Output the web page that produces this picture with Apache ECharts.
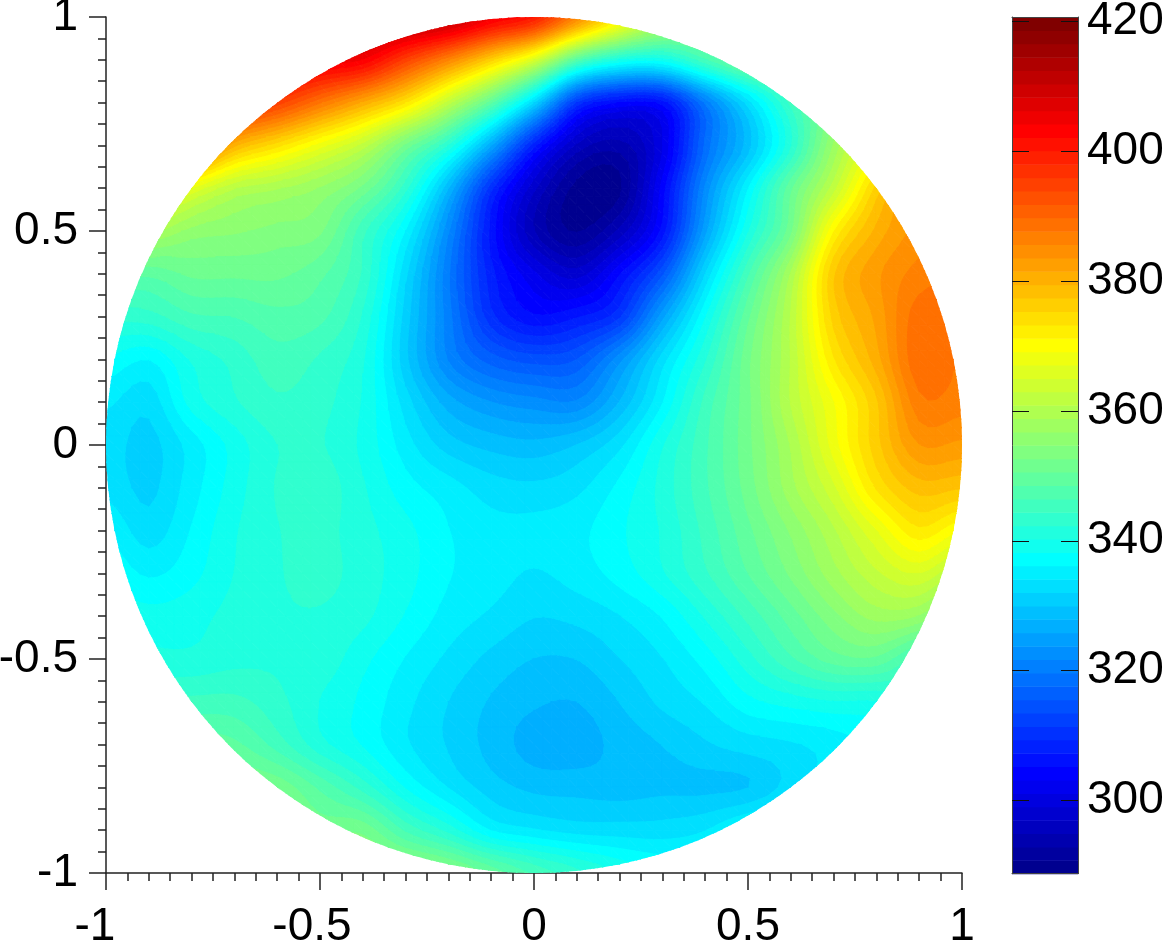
<!DOCTYPE html>
<html><head><meta charset="utf-8">
<style>html,body{margin:0;padding:0;background:#fff}#c{width:1165px;height:944px}</style>
<script src="https://cdn.jsdelivr.net/npm/echarts@6/dist/echarts.min.js"></script>
</head><body><div id="c"></div>
<script>
const gridX=[-1,-0.9,-0.8,-0.7,-0.6,-0.5,-0.4,-0.3,-0.2,-0.1,0,0.1,0.2,0.3,0.4,0.5,0.6,0.7,0.8,0.9,1];
const gridY=[1,0.9,0.8,0.7,0.6,0.5,0.4,0.3,0.2,0.1,0,-0.1,-0.2,-0.3,-0.4,-0.5,-0.6,-0.7,-0.8,-0.9,-1];
const values=[
[420,420,420,418,416,414,414,414,412,405,400,386,372,360,354,352,352,354,360,370,380],
[415,415,412,410,408,406,404,395,386,376,365,348,340,339,346,352,355,358,362,370,380],
[410,408,405,400,395,388,381,373.3,361.8,349,332,311,305,306,320,333,345,354,362,372,382],
[400,398,392,380,374,368,362,352,342,326,308,296.5,294,301,318,329,342,357,368,378,386],
[385,375,367,361,359,356.5,352,343,328,310,297.5,290,290.3,304,322,336,350,362,376,384,388],
[365,360,356,355,354,353,345,336,322,306.5,295,290.6,295.5,306,325,340,352,371,380,384.5,387],
[350,349,351,351,351,349,344,332.5,320,308,301.5,298,305,315,332,346,359,377,383,386.5,388],
[343,343.5,346,346.5,347.8,347,342,331,320.5,310,305.5,307,311,325,338,350,361,376,382,388.8,388],
[338,336.2,340.5,343,345.6,344,340.5,330.5,321.5,316.5,314.5,315.5,323,333,342,352,361,373,380.5,389.2,387.5],
[334.5,332.8,339,342,344,343,340,333,326.8,323.8,322.5,322,328,336,345,352,361,369,377,387,386.5],
[333,331.3,335,339,342.3,342.5,339.7,335,331,329.2,328.5,330,333.5,340,346,352,359,368,376.5,383.5,383],
[333.5,331.5,335.2,339.2,342.5,343.5,340.5,337,335,333,332.5,333.5,336.7,341,346,351.5,358,364.5,373.5,378.3,377.5],
[336,333,336.3,340,342.2,343,341,338.8,336.2,334.8,334.7,335.5,337.8,340.5,345,350,355,360.5,367,372.7,369],
[338,335.8,337.5,340.3,342.1,343,341.3,339,336.3,335,333.9,335,337,340,344,348.5,353,358,362.5,365,360],
[340,339,339.5,341,342,342.1,340.8,338,335.3,333.7,332.1,332.6,334,336.3,340.5,345,349.5,354,357.5,356.5,350],
[342,341,340.8,341.7,342,341.6,338.8,336,333.6,331.4,329.9,330,332,334,337,341.5,346,349.5,350,345,342],
[346,345,345,345,343,340.2,337.7,334.7,332,329.7,328.2,327.9,330,332.5,334.3,337.5,339,340,340,342,344],
[352,351,350,349,345.5,341,338,334.4,331.8,329.2,327,326.8,328.6,330,331.7,333,333.8,335,337,340,342],
[356,355,354,353,352,348,343.5,338,334,331,329.4,329.2,329,329.5,329.5,329.9,333,336,338,340,342],
[358,357,356,355,354,352,352,346,341.5,336,334.3,333.2,333,333,334,337,339,340,341,342,344],
[358,358,358,358,357,356,356,356,354,350,346,343,340,338,338,340,341,342,343,344,345]
];
const barMin=288.7, barMax=420.7, bandCount=64;
const barTicks=[300,320,340,360,380,400,420];

const bandStep=(barMax-barMin)/bandCount;
function jet(k){ // k is 1..64
  const f=a=>Math.round(255*Math.max(0,Math.min(1,a)));
  return 'rgb('+f(Math.min((k-24)/16,(72-k)/16))+','+f(Math.min((k-8)/16,(56-k)/16))+','+f(Math.min((k+8)/16,(40-k)/16))+')';
}
function clipPoly(poly,level,above){
  const out=[];
  for(let i=0;i<poly.length;i++){
    const a=poly[i],b=poly[(i+1)%poly.length];
    const ia=above?a[2]>=level:a[2]<=level, ib=above?b[2]>=level:b[2]<=level;
    if(ia)out.push(a);
    if(ia!==ib){const t=(level-a[2])/(b[2]-a[2]);out.push([a[0]+t*(b[0]-a[0]),a[1]+t*(b[1]-a[1]),level]);}
  }
  return out;
}
// contour smoothing used only while drawing a cell, the way a smoothed line is drawn
const idx=(v,n)=>Math.max(0,Math.min(n-1,v));
function cr(p0,p1,p2,p3,t){
  return 0.5*(2*p1+(p2-p0)*t+(2*p0-5*p1+4*p2-p3)*t*t+(3*p1-p0-3*p2+p3)*t*t*t);
}
function surf(r,c,u,v){
  const col=[];
  for(let i=-1;i<3;i++){
    const row=values[idx(r+i,values.length)];
    const n=row.length;
    col.push(cr(row[idx(c-1,n)],row[idx(c,n)],row[idx(c+1,n)],row[idx(c+2,n)],u));
  }
  return cr(col[0],col[1],col[2],col[3],v);
}
const SUB=5;
const cells=[];
for(let r=0;r<gridY.length-1;r++)for(let c=0;c<gridX.length-1;c++)cells.push([c,r]);
function renderCell(params,api){
  const c=api.value(0),r=api.value(1);
  const x0=gridX[c],x1=gridX[c+1],y0=gridY[r],y1=gridY[r+1];
  const far=Math.max(...[[x0,y0],[x1,y0],[x1,y1],[x0,y1]].map(p=>Math.hypot(p[0],p[1])));
  const nx=x0*x1<=0?0:Math.min(Math.abs(x0),Math.abs(x1)), ny=y0*y1<=0?0:Math.min(Math.abs(y0),Math.abs(y1));
  if(Math.hypot(nx,ny)>=1)return null;
  const pts=[];
  for(let j=0;j<=SUB;j++){
    const line=[];
    for(let i=0;i<=SUB;i++){
      const u=i/SUB,v=j/SUB;
      const p=api.coord([x0+(x1-x0)*u,y0+(y1-y0)*v]);
      line.push([p[0],p[1],surf(r,c,u,v)]);
    }
    pts.push(line);
  }
  const children=[];
  const addTri=tri=>{
    const vs=tri.map(t=>t[2]);
    const kLo=Math.max(1,Math.min(bandCount,Math.floor((Math.min(...vs)-barMin)/bandStep)+1));
    const kHi=Math.max(1,Math.min(bandCount,Math.floor((Math.max(...vs)-barMin)/bandStep)+1));
    for(let k=kLo;k<=kHi;k++){
      let poly=tri;
      if(k>1)poly=clipPoly(poly,barMin+(k-1)*bandStep,true);
      if(poly.length>=3&&k<bandCount)poly=clipPoly(poly,barMin+k*bandStep,false);
      if(poly.length>=3){
        const col=jet(k);
        children.push({type:'polygon',shape:{points:poly.map(q=>[q[0],q[1]])},style:{fill:col,stroke:col,lineWidth:1,lineJoin:'round'}});
      }
    }
  };
  for(let j=0;j<SUB;j++)for(let i=0;i<SUB;i++){
    const a=pts[j][i],b=pts[j][i+1],d=pts[j+1][i+1],e=pts[j+1][i];
    addTri([a,b,d]);addTri([a,d,e]);
  }
  const g={type:'group',children:children};
  if(far>=0.98){
    const o=api.coord([0,0]),e1=api.coord([1,0]);
    g.clipPath={type:'circle',shape:{cx:o[0],cy:o[1],r:e1[0]-o[0]}};
  }
  return g;
}
const bands=[];
for(let k=1;k<=bandCount;k++)bands.push(k);
function renderBand(params,api){
  const k=api.value(0);
  const p0=api.coord([0,barMin+(k-1)*bandStep]),p1=api.coord([1,barMin+k*bandStep]);
  return {type:'rect',shape:{x:p0[0],y:p1[1],width:p1[0]-p0[0],height:p0[1]-p1[1]+0.5},style:{fill:jet(k)}};
}
const font={fontFamily:'Liberation Sans, Arial, sans-serif',fontSize:46,color:'#000'};
const lineStyle={color:'#222',width:1.5};
function xLabel(v){
  const s=String(Math.round(v*10)/10);
  if(v===-1)return '{a|'+s+'}';
  if(v===-0.5)return '{b|'+s+'}';
  return '{c|'+s+'}';
}
const chart=echarts.init(document.getElementById('c'),null,{renderer:'canvas'});
chart.setOption({
  animation:false,
  backgroundColor:'#fff',
  grid:[
    {left:106,top:17,width:856,height:856,outerBoundsMode:'none'},
    {left:1012,top:17,width:66,height:856.7,outerBoundsMode:'none'}
  ],
  xAxis:[
    {gridIndex:0,type:'value',min:-1,max:1,interval:0.5,splitLine:{show:false},
     axisLine:{show:true,onZero:false,lineStyle},
     axisTick:{show:true,length:17,lineStyle},
     minorTick:{show:true,splitNumber:10,length:8,lineStyle},
     axisLabel:{formatter:xLabel,margin:31,hideOverlap:false,rich:{
       a:{...font,padding:[0,22,0,0]},b:{...font,padding:[0,16,0,0]},c:{...font}}}},
    {gridIndex:1,type:'value',min:0,max:1,position:'bottom',z:10,splitLine:{show:false},
     axisLine:{show:true,onZero:false,lineStyle:{color:'#444',width:1}},axisTick:{show:false},axisLabel:{show:false}},
    {gridIndex:1,type:'value',min:0,max:1,position:'top',z:10,splitLine:{show:false},
     axisLine:{show:true,onZero:false,lineStyle:{color:'#444',width:1}},axisTick:{show:false},axisLabel:{show:false}}
  ],
  yAxis:[
    {gridIndex:0,type:'value',min:-1,max:1,interval:0.5,splitLine:{show:false},
     axisLine:{show:true,onZero:false,lineStyle},
     axisTick:{show:true,length:17,lineStyle},
     minorTick:{show:true,splitNumber:10,length:8,lineStyle},
     axisLabel:{...font,margin:28,padding:[4,0,0,0],hideOverlap:false,formatter:v=>String(Math.round(v*10)/10)}},
    {gridIndex:1,type:'value',min:barMin,max:barMax,position:'left',z:10,splitLine:{show:false},
     axisLine:{show:true,onZero:false,lineStyle:{color:'#444',width:1}},
     axisTick:{show:true,inside:true,length:17,customValues:barTicks,lineStyle:{color:'#111',width:1}},
     axisLabel:{show:false}},
    {gridIndex:1,type:'value',min:barMin,max:barMax,position:'right',z:10,splitLine:{show:false},
     axisLine:{show:true,onZero:false,lineStyle:{color:'#444',width:1}},
     axisTick:{show:true,inside:true,length:17,customValues:barTicks,lineStyle:{color:'#111',width:1}},
     axisLabel:{...font,margin:9,padding:[3,0,0,0],customValues:barTicks,formatter:v=>String(v)}}
  ],
  series:[
    {type:'custom',name:'field',xAxisIndex:0,yAxisIndex:0,coordinateSystem:'cartesian2d',data:cells,
     renderItem:renderCell,silent:true,clip:false,encode:{x:0,y:1},animation:false,progressive:0},
    {type:'custom',name:'colorbar',xAxisIndex:1,yAxisIndex:1,coordinateSystem:'cartesian2d',data:bands.map(k=>[k]),
     renderItem:renderBand,silent:true,clip:false,encode:{y:0},animation:false}
  ]
});
</script></body></html>
